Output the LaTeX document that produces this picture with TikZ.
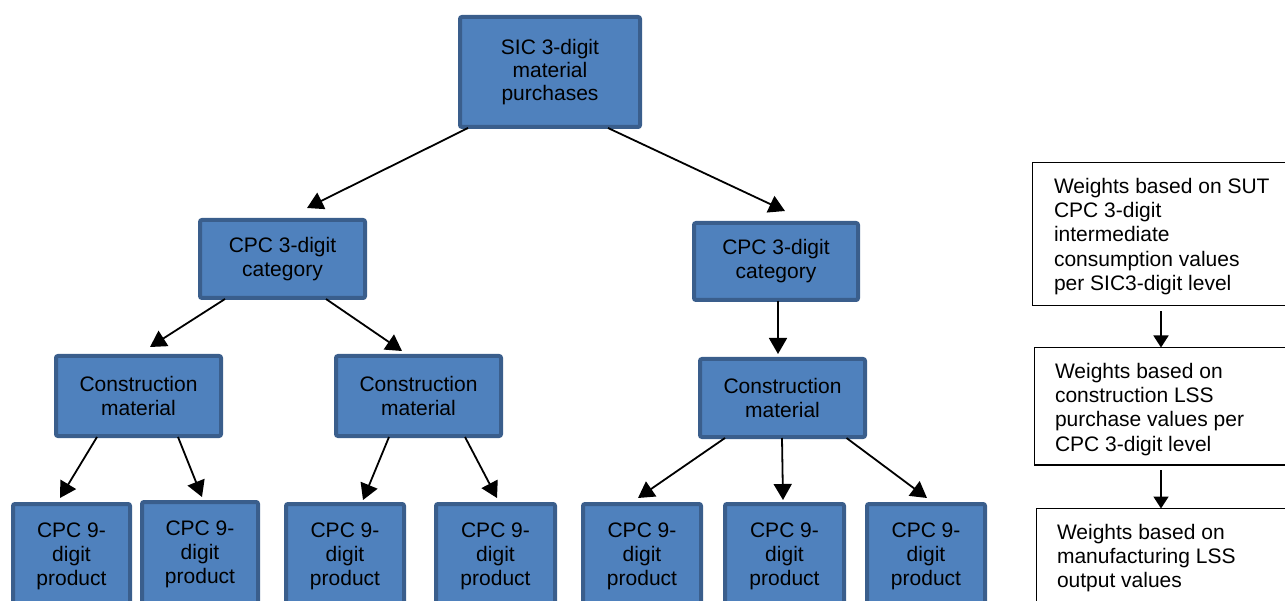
\documentclass[tikz,border=0pt]{standalone}
\usepackage{fontspec}
\setmainfont{Liberation Sans}
\usetikzlibrary{arrows.meta}
\definecolor{boxfill}{RGB}{79,129,189}
\definecolor{boxline}{RGB}{58,94,140}
\begin{document}
\begin{tikzpicture}[x=1pt,y=-1pt,
  tbox/.style={draw=boxline, line width=4pt, fill=boxfill, rounded corners=2pt, inner sep=0pt, outer sep=0pt, align=center, font=\fontsize{21}{24}\selectfont},
  wbox/.style={draw=black, line width=1.3pt, fill=white, anchor=north west, inner ysep=0pt, outer sep=0pt, font=\fontsize{21}{24.3}\selectfont},
  arr/.style={line width=1.8pt, -{Triangle[length=16pt,width=18pt]}},
  sarr/.style={line width=1.8pt, -{Triangle[length=12pt,width=15pt]}}]
\useasboundingbox (0,0) rectangle (1285,601);
\clip (0,0) rectangle (1285,601);

% tree
\node[tbox, minimum width=180pt, minimum height=110pt, font=\fontsize{21}{23.3}\selectfont] (top) at (550,72) {SIC 3-digit\\material\\purchases};
\node[tbox, minimum width=165pt, minimum height=78pt] (lcpc) at (282.5,259) {CPC 3-digit\\category};
\node[tbox, minimum width=164pt, minimum height=77pt] (rcpc) at (776,261.5) {CPC 3-digit\\category};
\node[tbox, minimum width=165pt, minimum height=80pt] (lcon) at (138.5,396) {Construction\\material};
\node[tbox, minimum width=165pt, minimum height=80pt] (mcon) at (418.5,396) {Construction\\material};
\node[tbox, minimum width=165pt, minimum height=78pt] (rcon) at (782.5,398) {Construction\\material};
\node[tbox, minimum width=117pt, minimum height=104pt] (b1) at (71.5,556) {CPC 9-\\digit\\product};
\node[tbox, minimum width=116pt, minimum height=104pt] (b2) at (200,554) {CPC 9-\\digit\\product};
\node[tbox, minimum width=118pt, minimum height=104pt] (b3) at (345,556) {CPC 9-\\digit\\product};
\node[tbox, minimum width=119pt, minimum height=104pt] (b4) at (495.5,556) {CPC 9-\\digit\\product};
\node[tbox, minimum width=118pt, minimum height=104pt] (b5) at (642,556) {CPC 9-\\digit\\product};
\node[tbox, minimum width=119pt, minimum height=104pt] (b6) at (784.5,556) {CPC 9-\\digit\\product};
\node[tbox, minimum width=118pt, minimum height=104pt] (b7) at (926,556) {CPC 9-\\digit\\product};

\draw[arr] ([xshift=-82pt,yshift=-1pt]top.south) -- ([xshift=24.5pt,yshift=12pt]lcpc.north);
\draw[arr] ([xshift=58pt,yshift=-1pt]top.south) -- ([xshift=9pt,yshift=12pt]rcpc.north);
\draw[arr] ([xshift=-57.5pt,yshift=-1pt]lcpc.south) -- ([xshift=11.5pt,yshift=9pt]lcon.north);
\draw[arr] ([xshift=43.5pt,yshift=-1pt]lcpc.south) -- ([xshift=-16.5pt,yshift=5pt]mcon.north);
\draw[arr] ([xshift=2pt,yshift=-1pt]rcpc.south) -- ([xshift=-4.5pt,yshift=5pt]rcon.north);
\draw[arr] ([xshift=-41.5pt,yshift=-1pt]lcon.south) -- ([xshift=-11.5pt,yshift=6pt]b1.north);
\draw[arr] ([xshift=39.5pt,yshift=-1pt]lcon.south) -- ([xshift=2pt,yshift=5pt]b2.north);
\draw[arr] ([xshift=-29.5pt,yshift=-1pt]mcon.south) -- ([xshift=18pt,yshift=4pt]b3.north);
\draw[arr] ([xshift=46.5pt,yshift=-1pt]mcon.south) -- ([xshift=1.5pt,yshift=6pt]b4.north);
\draw[arr] ([xshift=-57.5pt,yshift=-1pt]rcon.south) -- ([xshift=-4pt,yshift=6pt]b5.north);
\draw[arr] ([xshift=-0.5pt,yshift=-1pt]rcon.south) -- ([xshift=-1.5pt,yshift=4pt]b6.north);
\draw[arr] ([xshift=64pt,yshift=-1pt]rcon.south) -- ([xshift=1pt,yshift=6pt]b7.north);

% weights column
\node[wbox, inner xsep=21.5pt] (r1) at (1032.5,162.5)
  {\parbox[c][143pt][t]{224.5pt}{\raggedright\vspace*{15.5pt}Weights based on SUT\\CPC 3-digit\\intermediate\\consumption values\\per SIC3-digit level}};
\node[wbox, inner xsep=20.5pt] (r2) at (1034.5,347.5)
  {\parbox[c][117.5pt][t]{224.5pt}{\raggedright\vspace*{15.5pt}Weights based on\\construction LSS\\purchase values per\\CPC 3-digit level}};
\node[wbox, inner xsep=20.5pt] (r3) at (1036.5,508.5)
  {\parbox[c][120pt][t]{222.5pt}{\raggedright\vspace*{15.5pt}Weights based on\\manufacturing LSS\\output values}};

\draw[sarr] ([xshift=-5.25pt,yshift=-6pt]r1.south) -- ([xshift=-6.25pt]r2.north);
\draw[sarr] ([xshift=-6.25pt,yshift=-5pt]r2.south) -- ([xshift=-7.25pt]r3.north);
\end{tikzpicture}
\end{document}
